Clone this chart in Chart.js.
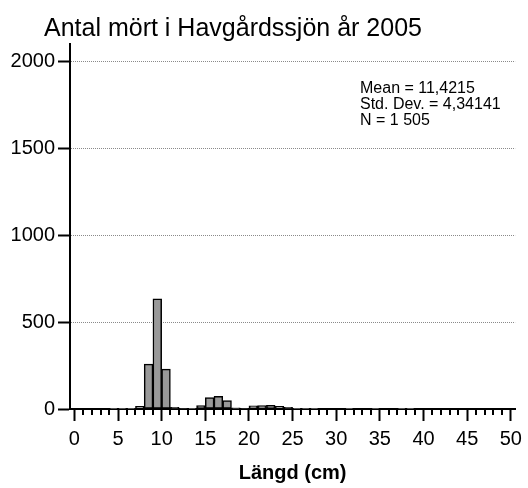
<!DOCTYPE html>
<html lang="sv">

<head>
    <meta charset="UTF-8">
    <meta name="viewport" content="width=device-width, initial-scale=1.0">
    <title>Antal mört i Havgårdssjön år 2005</title>
    <style>
        html,
        body {
            margin: 0;
            padding: 0;
            background: #fff;
        }

        .chart-box {
            position: relative;
            width: 528px;
            height: 488px;
        }
    </style>
</head>

<body>
    <div class="chart-box">
        <canvas id="myChart01"></canvas>
    </div>
    <script src="https://cdn.jsdelivr.net/npm/chart.js"></script>
    <script>
        // 資料 / data
        var chartTitle = 'Antal mört i Havgårdssjön år 2005';
        var xTitle = 'Längd (cm)';
        // binStart = vänstra kanten av varje stapel (cm), bredd 1 cm
        var binStart = [0, 1, 2, 3, 4, 5, 6, 7, 8, 9,
            10, 11, 12, 13, 14, 15, 16, 17, 18, 19,
            20, 21, 22, 23, 24, 25, 26, 27, 28, 29,
            30, 31, 32, 33, 34, 35, 36, 37, 38, 39,
            40, 41, 42, 43, 44, 45, 46, 47, 48, 49];
        var counts = [0, 0, 0, 0, 1, 1, 2, 15, 258, 634,
            229, 9, 3, 2, 20, 66, 73, 49, 7, 3,
            18, 19, 21, 15, 9, 4, 2, 1, 0, 0,
            0, 1, 0, 0, 1, 0, 0, 2, 1, 0,
            0, 0, 0, 0, 0, 0, 0, 0, 0, 0];
        var xMajorTicks = [0, 5, 10, 15, 20, 25, 30, 35, 40, 45, 50];
        var yTicks = [0, 500, 1000, 1500, 2000];
        var statLines = ['Mean = 11,4215', 'Std. Dev. = 4,34141', 'N = 1 505'];

        var fontFamily = '"Liberation Sans", Arial, Helvetica, sans-serif';

        // staplar i mitten av varje 1 cm intervall
        var barData = [];
        binStart.forEach(function (b, i) {
            barData.push({ x: b + 0.5, y: counts[i] });
        });

        // små tickmarkeringar + titel + statistik
        var extraDraw = {
            id: 'extraDraw',
            afterDraw: function (chart) {
                var ctx = chart.ctx;
                var xs = chart.scales.x;
                ctx.save();
                ctx.strokeStyle = '#000';
                ctx.lineWidth = 2;
                for (var v = 0; v <= 50; v++) {
                    if (v % 5 == 0) continue;
                    var px = Math.round(xs.getPixelForValue(v));
                    ctx.beginPath();
                    ctx.moveTo(px, xs.top);
                    ctx.lineTo(px, xs.top + 6);
                    ctx.stroke();
                }
                ctx.fillStyle = '#000';
                ctx.textAlign = 'left';
                ctx.textBaseline = 'alphabetic';
                ctx.font = '25px ' + fontFamily;
                ctx.fillText(chartTitle, 44, 36);
                ctx.font = '16px ' + fontFamily;
                statLines.forEach(function (s, i) {
                    ctx.fillText(s, 360, 92.5 + i * 16.3);
                });
                ctx.restore();
            }
        };

        var ctx01 = document.getElementById('myChart01');
        var chart01 = new Chart(ctx01, {
            type: 'bar',
            data: {
                datasets: [{
                    label: chartTitle,
                    data: barData,
                    backgroundColor: '#999999',
                    borderColor: '#000',
                    borderWidth: 1.5,
                    borderSkipped: false,
                    barPercentage: 1,
                    categoryPercentage: 1
                }]
            },
            options: {
                responsive: true,
                maintainAspectRatio: false,
                animation: false,
                layout: {
                    padding: { left: 0, right: 9, top: 44, bottom: 0 }
                },
                plugins: {
                    legend: { display: false },
                    tooltip: { enabled: false }
                },
                scales: {
                    x: {
                        type: 'linear',
                        min: -0.5,
                        max: 50.5,
                        offset: false,
                        afterBuildTicks: function (scale) {
                            scale.ticks = xMajorTicks.map(function (v) { return { value: v }; });
                        },
                        afterFit: function (scale) {
                            scale.height = 79;
                        },
                        grid: {
                            offset: false,
                            drawOnChartArea: false,
                            drawTicks: true,
                            tickLength: 12,
                            tickColor: '#000',
                            tickWidth: 2
                        },
                        border: { color: '#000', width: 2 },
                        ticks: {
                            autoSkip: false,
                            maxRotation: 0,
                            padding: 6,
                            color: '#000',
                            font: { family: fontFamily, size: 20 },
                            callback: function (value) { return String(value); }
                        },
                        title: {
                            display: true,
                            text: xTitle,
                            color: '#000',
                            padding: { top: 0, bottom: 3 },
                            font: { family: fontFamily, size: 20, weight: 'bold' }
                        }
                    },
                    y: {
                        min: 0,
                        max: 2100,
                        afterBuildTicks: function (scale) {
                            scale.ticks = yTicks.map(function (v) { return { value: v }; });
                        },
                        afterFit: function (scale) {
                            scale.width = 70;
                        },
                        grid: {
                            color: function (c) {
                                return c.tick && c.tick.value == 0 ? 'rgba(0,0,0,0)' : '#8a8a8a';
                            },
                            lineWidth: 1,
                            drawTicks: true,
                            tickLength: 12,
                            tickColor: '#000',
                            tickWidth: 2
                        },
                        border: { color: '#000', width: 2, dash: [1, 1] },
                        ticks: {
                            padding: 3,
                            color: '#000',
                            font: { family: fontFamily, size: 20 },
                            callback: function (value) { return String(value); }
                        }
                    }
                }
            },
            plugins: [extraDraw]
        });
    </script>
</body>

</html>
